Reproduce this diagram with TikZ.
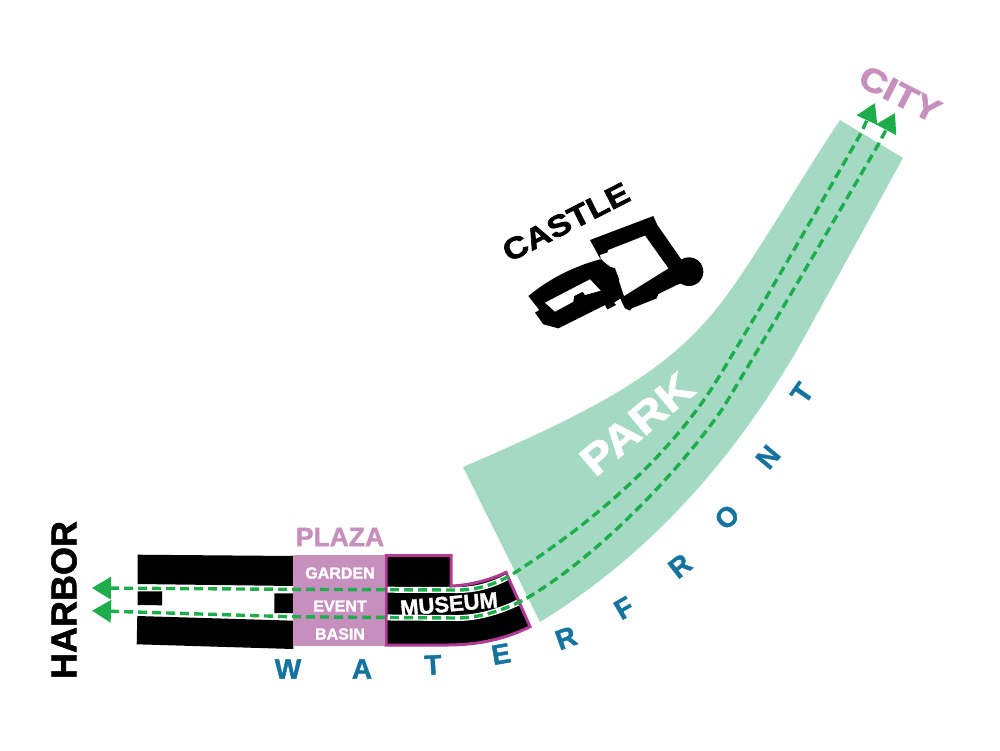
\documentclass[tikz,border=0pt]{standalone}
\usepackage{fontspec}
\setmainfont[BoldFeatures={FakeBold=1.5}]{Liberation Sans}
\newfontfamily\widef[BoldFeatures={FakeBold=2,FakeStretch=1.15}]{Liberation Sans}
\usetikzlibrary{arrows.meta}
\definecolor{parkc}{HTML}{A4D9C3}
\definecolor{routec}{HTML}{1DAE4B}
\definecolor{plazac}{HTML}{C78FBE}
\definecolor{museumc}{HTML}{B03A94}
\definecolor{bluec}{HTML}{14749F}
\tikzset{
  lbl/.style={font=\bfseries\fontsize{#1}{#1}\selectfont,inner sep=0pt},
  widelbl/.style={font=\widef\bfseries\fontsize{#1}{#1}\selectfont,inner sep=0pt},
  wf/.style={lbl=28,text=bluec},
  sub/.style={lbl=16,text=white},
  route/.style={draw=routec,line width=3.4pt,dash pattern=on 9pt off 5pt,
    {Triangle[length=19pt,width=22pt,fill=routec]}-{Triangle[length=19pt,width=22pt,fill=routec]}},
  halo/.style={draw=white,line width=6pt},
  zoomB/.style={shift={(280,510)},x=1/3*1pt,y=-1/3*1pt},
  zoomC/.style={shift={(490,170)},x=1/3*1pt,y=-1/3*1pt},
}
\begin{document}
\begin{tikzpicture}[x=1pt,y=-1pt]
\useasboundingbox (0,0) rectangle (1000,750);
% route way-points
\coordinate (h1) at (92,588);
\coordinate (h2) at (92,610.7);
\coordinate (c1) at (875,103);
\coordinate (c2) at (895,113);
\coordinate (a1) at (290,589.3);
\coordinate (a3) at (457,590);
\coordinate (a4) at (510,575.7);
\coordinate (a8) at (712,388);
\coordinate (a10) at (860,135);
\coordinate (b1) at (290,616.7);
\coordinate (b3) at (457,618);
\coordinate (b4) at (527,598);
\coordinate (b7) at (723,408);
\coordinate (b9) at (878,145);
% black blocks
\fill (137.7,554.7) -- (294.3,556) -- (294.3,586) -- (137.7,584) -- cycle;
\fill (137.5,591.3) -- (162,591.3) -- (162,605.3) -- (137.5,605) -- cycle;
\fill (274.3,593.3) -- (294.3,593.3) -- (294.3,613.3) -- (274.3,613) -- cycle;
\fill (137.3,616) -- (294.3,620.7) -- (293.3,649) -- (136.7,644.3) -- cycle;
% museum
\begin{scope}[zoomB]
\fill (318,137) -- (513,137) -- (513,228) .. controls (570,226) and (630,210) .. (678,187)
  -- (750,350) .. controls (680,385) and (600,405) .. (500,405) -- (318,405) -- cycle;
\end{scope}
% halos
\draw[halo] (a1) -- (a3) .. controls (478,590) and (495,584) .. (a4);
\draw[halo] (b1) -- (b3) .. controls (480,618) and (505,610) .. (b4);
\begin{scope}[zoomB]
\draw[museumc,line width=3pt,line join=miter]
  (318,137) -- (513,137) -- (513,228) .. controls (570,226) and (630,210) .. (678,187)
  -- (750,350) .. controls (680,385) and (600,405) .. (500,405) -- (318,405) -- cycle;
\end{scope}
% plaza
\fill[plazac] (293,554.5) rectangle (385,646);
% park
\fill[parkc] (463,467) .. controls (560,425) and (650,385) .. (705,322)
  .. controls (740,285) and (790,195) .. (840,120) -- (903,158) -- (800,345)
  .. controls (745,440) and (665,545) .. (540,622) -- cycle;
% castle
\begin{scope}[zoomC]
\fill (300,210) -- (490,138) -- (502,165) -- (575,270) -- (600,330) -- (560,345) -- (505,372) -- (500,385)
  -- (425,415) -- (420,422) -- (405,415) -- (395,395) -- (375,340) -- (330,265) -- cycle;
\fill (597,305) circle[radius=43];
\fill[white] (330,255) -- (352,248) -- (355,240) -- (465,197) -- (535,295) -- (402,378) -- (388,335)
  -- (370,295) -- (355,290) -- (332,265) -- cycle;
\fill (115,378) .. controls (180,325) and (250,290) .. (330,268) -- (360,290) -- (375,295) -- (388,330) -- (380,340)
  -- (400,380) -- (372,398) -- (378,405) -- (352,418) -- (345,405) -- (205,475) -- (160,463)
  -- (135,428) -- (148,420) -- cycle;
\fill[white] (165,398) -- (300,328) -- (332,362) -- (285,375) -- (278,365) -- (252,378) -- (250,395) -- (195,425) -- cycle;
\end{scope}
% routes
\draw[route] (h1) -- (a1) -- (a3) .. controls (478,590) and (495,584) .. (a4)
  .. controls (590,525) and (665,460) .. (a8) .. controls (745,335) and (800,240) .. (a10) -- (c1);
\draw[route] (h2) -- (b1) -- (b3) .. controls (480,618) and (505,610) .. (b4)
  .. controls (600,555) and (680,470) .. (b7) .. controls (755,355) and (820,245) .. (b9) -- (c2);
% labels
\node[lbl=36,rotate=90] (harbor) at (64,600) {HARBOR};
\node[lbl=26.5,text=plazac] (plaza) at (340,537) {PLAZA};
\node[sub] (garden) at (340,573) {GARDEN};
\node[sub] (event) at (340,606) {EVENT};
\node[sub] (basin) at (340,634) {BASIN};
\node[lbl=22,text=white,rotate=5] (museum) at (449,604) {MUSEUM};
\node[widelbl=30,rotate=27] (castle) at (566,222) {CASTLE};
\node[widelbl=33,text=plazac,rotate=-27] (city) at (900,94) {CITY};
\node[widelbl=42,text=white,rotate=40] (park) at (637,424) {PARK};
\node[wf] (w1) at (288,669) {W};
\node[wf] (w2) at (362,669) {A};
\node[wf,rotate=3] (w3) at (433,665) {T};
\node[wf,rotate=10] (w4) at (501,654) {E};
\node[wf,rotate=20] (w5) at (566,638) {R};
\node[wf,rotate=30] (w6) at (624,608) {F};
\node[wf,rotate=38] (w7) at (680,566) {R};
\node[wf,rotate=45] (w8) at (727,517) {O};
\node[wf,rotate=50] (w9) at (768,457) {N};
\node[wf,rotate=55] (w10) at (802,393) {T};
\end{tikzpicture}
\end{document}
